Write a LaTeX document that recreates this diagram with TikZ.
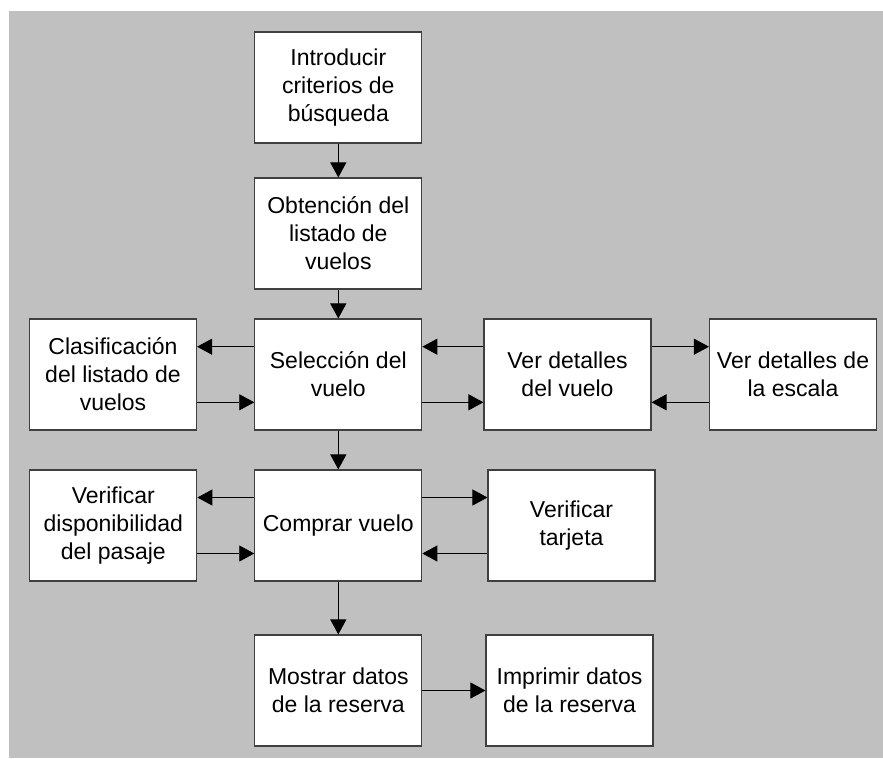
\documentclass[tikz,border=0pt]{standalone}
\usepackage{fontspec}
\setmainfont{Liberation Sans}
\usetikzlibrary{arrows.meta}
\definecolor{panelgray}{RGB}{192,192,192}
\begin{document}
\begin{tikzpicture}[x=1pt,y=-1pt,
  box/.style={draw=black!75, line width=1.1pt, fill=white, inner sep=0pt,
    minimum width=167pt, minimum height=111pt, align=center,
    font=\fontsize{23}{28}\selectfont},
  arr/.style={draw=black, line width=0.9pt, -{Triangle[length=15pt,width=16pt]}}]
  % page and grey panel
  \useasboundingbox (0,0) rectangle (883,758);
  \fill[white] (0,0) rectangle (883,758);
  \fill[panelgray] (9,11) rectangle (883,758);

  % boxes
  \node[box] (intro) at (338.3,87.5)  {Introducir\\criterios de\\búsqueda};
  \node[box] (obt)   at (338.3,233.5) {Obtención del\\listado de\\vuelos};
  \node[box] (sel)   at (338.3,374.5) {Selección del\\vuelo};
  \node[box] (clas)  at (113,374.5)   {Clasificación\\del listado de\\vuelos};
  \node[box] (vdv)   at (567.5,374.5) {Ver detalles\\del vuelo};
  \node[box] (vde)   at (793,374.5)   {Ver detalles de\\la escala};
  \node[box] (comp)  at (338.3,525.5) {Comprar vuelo};
  \node[box] (vdisp) at (113.3,525.5) {Verificar\\disponibilidad\\del pasaje};
  \node[box] (vtar)  at (571.5,525.5) {Verificar\\tarjeta};
  \node[box] (most)  at (338.3,690.5) {Mostrar datos\\de la reserva};
  \node[box] (impr)  at (569.5,690.5) {Imprimir datos\\de la reserva};

  % main vertical flow
  \draw[arr] (intro) -- (obt);
  \draw[arr] (obt) -- (sel);
  \draw[arr] (sel) -- (comp);
  \draw[arr] (comp) -- (most);

  % paired side connectors
  \draw[arr] ([yshift=27.8pt]sel.west) -- ([yshift=27.8pt]clas.east);
  \draw[arr] ([yshift=-27.8pt]clas.east) -- ([yshift=-27.8pt]sel.west);
  \draw[arr] ([yshift=27.8pt]vdv.west) -- ([yshift=27.8pt]sel.east);
  \draw[arr] ([yshift=-27.8pt]sel.east) -- ([yshift=-27.8pt]vdv.west);
  \draw[arr] ([yshift=27.8pt]vdv.east) -- ([yshift=27.8pt]vde.west);
  \draw[arr] ([yshift=-27.8pt]vde.west) -- ([yshift=-27.8pt]vdv.east);
  \draw[arr] ([yshift=28pt]comp.west) -- ([yshift=28pt]vdisp.east);
  \draw[arr] ([yshift=-28pt]vdisp.east) -- ([yshift=-28pt]comp.west);
  \draw[arr] ([yshift=28pt]comp.east) -- ([yshift=28pt]vtar.west);
  \draw[arr] ([yshift=-28pt]vtar.west) -- ([yshift=-28pt]comp.east);
  \draw[arr] (most) -- (impr);
\end{tikzpicture}
\end{document}
